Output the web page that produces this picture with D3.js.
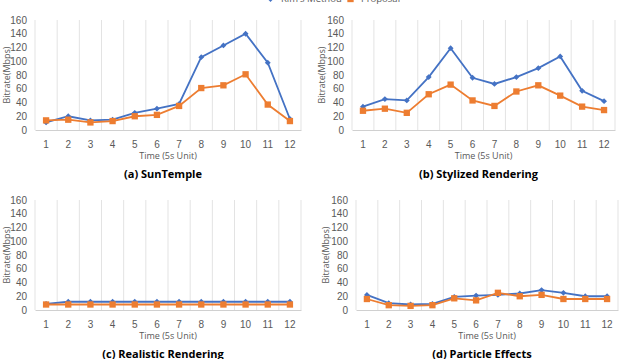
<!DOCTYPE html>
<html lang="en">
<head>
<meta charset="UTF-8">
<script src="https://d3js.org/d3.v7.min.js"></script>
<style>
    body { margin: 0; background: #fff; overflow: hidden; }
    svg { font-family: "Open Sans", "Noto Sans", sans-serif; }
    .tick text { fill: #595959; font-size: 10px; }
    .axis-title { fill: #595959; font-size: 9px; }
    .caption { fill: #000; font-size: 11px; font-weight: bold; }
    .legend text { fill: #595959; font-size: 9.5px; }
</style>
</head>
<body>
<svg id="chart" width="626" height="359"></svg>
<script>
const times = ["1", "2", "3", "4", "5", "6", "7", "8", "9", "10", "11", "12"];
const yTicks = [0, 20, 40, 60, 80, 100, 120, 140, 160];
const seriesNames = ["Kim's Method", "Proposal"];

const sunTempleKim = [11, 20, 14, 15, 25, 31, 38, 106, 123, 140, 98, 16];
const sunTempleProp = [14, 15, 11, 13, 20, 22, 35, 61, 65, 81, 37, 13];

const stylizedKim = [34, 45, 43, 77, 119, 76, 67, 77, 90, 107, 57, 42];
const stylizedProp = [28, 31, 25, 52, 66, 43, 35, 56, 65, 50, 34, 29];

const realisticKim = [9, 12, 12, 12, 12, 12, 12, 12, 12, 12, 12, 12];
const realisticProp = [8, 8, 8, 8, 8, 8, 8, 8, 8, 8, 8, 8];

const particleKim = [22, 10, 8, 9, 19, 21, 22, 24, 29, 25, 20, 20];
const particleProp = [16, 7, 6, 7, 17, 14, 25, 20, 22, 16, 16, 16];

const captions = ["(a)  SunTemple", "(b)  Stylized  Rendering", "(c)  Realistic  Rendering", "(d)  Particle  Effects"];

const blue = "#4472C4", orange = "#ED7D31";

const panels = [
    { left: 35, right: 301, top: 20, bottom: 130, yTitleX: 7, kim: sunTempleKim, prop: sunTempleProp },
    { left: 352, right: 615, top: 20, bottom: 130, yTitleX: 322, kim: stylizedKim, prop: stylizedProp },
    { left: 35, right: 301, top: 200, bottom: 310, yTitleX: 7, kim: realisticKim, prop: realisticProp },
    { left: 356, right: 618, top: 200, bottom: 310, yTitleX: 326, kim: particleKim, prop: particleProp }
];

const svg = d3.select("#chart");

panels.forEach((p, i) => {
    const x = d3.scaleBand().domain(times).range([p.left, p.right]);
    const y = d3.scaleLinear().domain([0, 160]).range([p.bottom, p.top]);
    const g = svg.append("g");

    // vertical grid at category boundaries
    g.selectAll(".vgrid")
        .data(times)
        .enter().append("line")
        .attr("x1", d => x(d)).attr("x2", d => x(d))
        .attr("y1", p.top).attr("y2", p.bottom)
        .attr("stroke", "#e3e3e3").attr("stroke-width", 1);
    g.append("line")
        .attr("x1", p.right).attr("x2", p.right)
        .attr("y1", p.top).attr("y2", p.bottom)
        .attr("stroke", "#e3e3e3");

    const xAxis = g.append("g")
        .attr("transform", `translate(0,${p.bottom})`)
        .call(d3.axisBottom(x).tickSize(0).tickPadding(11));
    xAxis.select(".domain").attr("stroke", "#d0d0d0");

    const yAxis = g.append("g")
        .attr("transform", `translate(${p.left},0)`)
        .call(d3.axisLeft(y).tickValues(yTicks).tickSize(0).tickPadding(8));
    yAxis.select(".domain").remove();

    g.append("text")
        .attr("class", "axis-title")
        .attr("text-anchor", "middle")
        .attr("transform", `translate(${p.yTitleX},${(p.top + p.bottom) / 2}) rotate(-90)`)
        .attr("dy", "0.35em")
        .text("Bitrate(Mbps)");

    g.append("text")
        .attr("class", "axis-title")
        .attr("text-anchor", "middle")
        .attr("x", (p.left + p.right) / 2)
        .attr("y", p.bottom + 29)
        .text("Time (5s Unit)");

    g.append("text")
        .attr("class", "caption")
        .attr("text-anchor", "middle")
        .attr("x", (p.left + p.right) / 2 - 5)
        .attr("y", p.bottom + 48)
        .text(captions[i]);

    const line = d3.line()
        .x((d, j) => x(times[j]) + x.bandwidth() / 2)
        .y(d => y(d));

    [[p.kim, blue, "diamond"], [p.prop, orange, "square"]].forEach(([vals, col, shape]) => {
        g.append("path")
            .datum(vals)
            .attr("d", line)
            .attr("fill", "none")
            .attr("stroke", col)
            .attr("stroke-width", 1.8);
        const sym = shape === "diamond" ? d3.symbol(d3.symbolDiamond2, 22) : d3.symbol(d3.symbolSquare, 40);
        g.selectAll(".m" + shape)
            .data(vals)
            .enter().append("path")
            .attr("d", sym)
            .attr("transform", (d, j) => `translate(${x(times[j]) + x.bandwidth() / 2},${y(d)})`)
            .attr("fill", col);
    });
});

// legend (clipped at the top edge, as in the reference)
const legend = svg.append("g").attr("class", "legend");
const legendItems = [
    { name: seriesNames[0], col: blue, sym: d3.symbol(d3.symbolDiamond2, 22), x: 263 },
    { name: seriesNames[1], col: orange, sym: d3.symbol(d3.symbolSquare, 40), x: 343 }
];
legendItems.forEach(it => {
    legend.append("line")
        .attr("x1", it.x).attr("x2", it.x + 15)
        .attr("y1", -1).attr("y2", -1)
        .attr("stroke", it.col).attr("stroke-width", 1.8);
    legend.append("path")
        .attr("d", it.sym)
        .attr("transform", `translate(${it.x + 7.5},-1)`)
        .attr("fill", it.col);
    legend.append("text")
        .attr("x", it.x + 18)
        .attr("y", 2)
        .text(it.name);
});
</script>
</body>
</html>
